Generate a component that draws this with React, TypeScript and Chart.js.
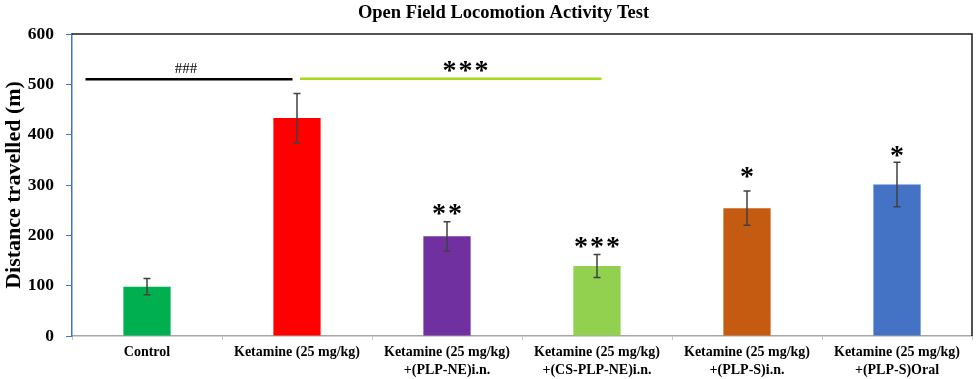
import React, { useEffect, useRef } from 'react';
import { Chart, registerables } from 'chart.js';

Chart.register(...registerables);

const chartTitle = 'Open Field Locomotion Activity Test';
const categories: string[][] = [
  ['Control'],
  ['Ketamine (25 mg/kg)'],
  ['Ketamine (25 mg/kg)', '+(PLP-NE)i.n.'],
  ['Ketamine (25 mg/kg)', '+(CS-PLP-NE)i.n.'],
  ['Ketamine (25 mg/kg)', '+(PLP-S)i.n.'],
  ['Ketamine (25 mg/kg)', '+(PLP-S)Oral'],
];
const values = [98, 433, 198, 139, 254, 301];
const errors = [16, 49, 29, 23, 34, 44];
const barColors = ['#00b050', '#ff0000', '#7030a0', '#92d050', '#c55a11', '#4472c4'];
const sigLabels = ['', '', '**', '***', '*', '*'];
const sigY = [0, 0, 252, 185, 324, 366];

const bracketFrom = [-0.41, 1.02];
const bracketTo = [0.97, 3.03];
const bracketY = [510, 511];
const bracketColors = ['#000000', '#a8d81c'];
const bracketLabels = ['###', '***'];
const bracketLabelX = [0.26, 2.13];
const bracketLabelY = [532, 536];

const SERIF = "'Liberation Serif', 'Times New Roman', serif";

function drawCentered(ctx: CanvasRenderingContext2D, text: string, x: number, cy: number) {
  ctx.textAlign = 'center';
  ctx.textBaseline = 'alphabetic';
  const m = ctx.measureText(text);
  const y = cy - (m.actualBoundingBoxDescent - m.actualBoundingBoxAscent) / 2;
  ctx.fillText(text, x, y);
}

const decorPlugin = {
  id: 'decor',
  afterDraw(chart: any) {
    const { ctx } = chart;
    ctx.save();
    ctx.fillStyle = '#000';
    ctx.font = `bold 18.5px ${SERIF}`;
    ctx.textAlign = 'center';
    ctx.textBaseline = 'middle';
    ctx.fillText(chartTitle, chart.width / 2 + 14, 13);
    ctx.restore();
  },
  afterDatasetsDraw(chart: any) {
    const { ctx, chartArea } = chart;
    const xs = chart.scales.x;
    const ys = chart.scales.y;
    ctx.save();
    // top & right frame
    ctx.strokeStyle = '#1a1a1a';
    ctx.lineWidth = 1.5;
    ctx.beginPath();
    ctx.moveTo(chartArea.left, chartArea.top);
    ctx.lineTo(chartArea.right, chartArea.top);
    ctx.lineTo(chartArea.right, chartArea.bottom);
    ctx.stroke();

    // error bars
    const meta = chart.getDatasetMeta(0);
    ctx.strokeStyle = '#404040';
    ctx.lineWidth = 1.5;
    meta.data.forEach((bar: any, i: number) => {
      const x = bar.x;
      const yTop = ys.getPixelForValue(values[i] + errors[i]);
      const yBot = ys.getPixelForValue(values[i] - errors[i]);
      ctx.beginPath();
      ctx.moveTo(x, yTop);
      ctx.lineTo(x, yBot);
      ctx.moveTo(x - 3.5, yTop);
      ctx.lineTo(x + 3.5, yTop);
      ctx.moveTo(x - 3.5, yBot);
      ctx.lineTo(x + 3.5, yBot);
      ctx.stroke();
    });

    // significance stars
    ctx.fillStyle = '#000';
    ctx.font = `bold 28px ${SERIF}`;
    try { (ctx as any).letterSpacing = '2px'; } catch (e) {}
    meta.data.forEach((bar: any, i: number) => {
      if (!sigLabels[i]) return;
      drawCentered(ctx, sigLabels[i], bar.x + 1, ys.getPixelForValue(sigY[i]));
    });

    // brackets
    bracketFrom.forEach((f, i) => {
      const y = ys.getPixelForValue(bracketY[i]);
      ctx.strokeStyle = bracketColors[i];
      ctx.lineWidth = 2.5;
      ctx.beginPath();
      ctx.moveTo(xs.getPixelForValue(f), y);
      ctx.lineTo(xs.getPixelForValue(bracketTo[i]), y);
      ctx.stroke();
      const lx = xs.getPixelForValue(bracketLabelX[i]);
      const ly = ys.getPixelForValue(bracketLabelY[i]);
      if (bracketLabels[i] === '###') {
        (ctx as any).letterSpacing = '0px';
        ctx.font = `15px ${SERIF}`;
      } else {
        (ctx as any).letterSpacing = '2px';
        ctx.font = `bold 28px ${SERIF}`;
      }
      ctx.fillStyle = '#000';
      drawCentered(ctx, bracketLabels[i], lx, ly);
    });
    ctx.restore();
  },
};

export default function App() {
  const ref = useRef<HTMLCanvasElement | null>(null);
  useEffect(() => {
    if (!ref.current) return;
    const chart = new Chart(ref.current, {
      type: 'bar',
      data: {
        labels: categories,
        datasets: [
          {
            data: values,
            backgroundColor: barColors,
            borderWidth: 0,
            barPercentage: 0.315,
            categoryPercentage: 1,
          },
        ],
      },
      options: {
        animation: false,
        responsive: false,
        maintainAspectRatio: false,
        layout: { padding: { left: 0, right: 7, top: 34, bottom: 0 } },
        plugins: {
          legend: { display: false },
          tooltip: { enabled: false },
          title: { display: false },
        },
        scales: {
          x: {
            afterFit: (s: any) => { s.height = 43; },
            grid: {
              offset: true,
              drawOnChartArea: false,
              drawTicks: true,
              tickLength: 4,
              color: '#c8c8c8',
            },
            border: { color: '#a6a6a6', width: 1.5 },
            ticks: {
              color: '#000',
              font: { family: SERIF, size: 14, weight: 'bold', lineHeight: 1.3 },
              maxRotation: 0,
              autoSkip: false,
              padding: 3,
            },
          },
          y: {
            min: 0,
            max: 600,
            afterFit: (s: any) => { s.width = 72; },
            grid: {
              drawOnChartArea: false,
              drawTicks: true,
              tickLength: 6,
              color: '#4472c4',
            },
            border: { color: '#4472c4', width: 1.5 },
            ticks: {
              stepSize: 100,
              color: '#000',
              font: { family: SERIF, size: 17.5, weight: 'bold' },
              padding: 12,
            },
            title: {
              display: true,
              text: 'Distance travelled (m)',
              color: '#000',
              font: { family: SERIF, size: 22, weight: 'bold' },
              padding: { top: 1, bottom: 0 },
            },
          },
        },
      },
      plugins: [decorPlugin],
    } as any);
    return () => chart.destroy();
  }, []);
  return (
    <div style={{ position: 'absolute', left: 0, top: 0, width: 979, height: 379, background: '#fff' }}>
      <canvas ref={ref} width={979} height={379} style={{ display: 'block' }} />
    </div>
  );
}
